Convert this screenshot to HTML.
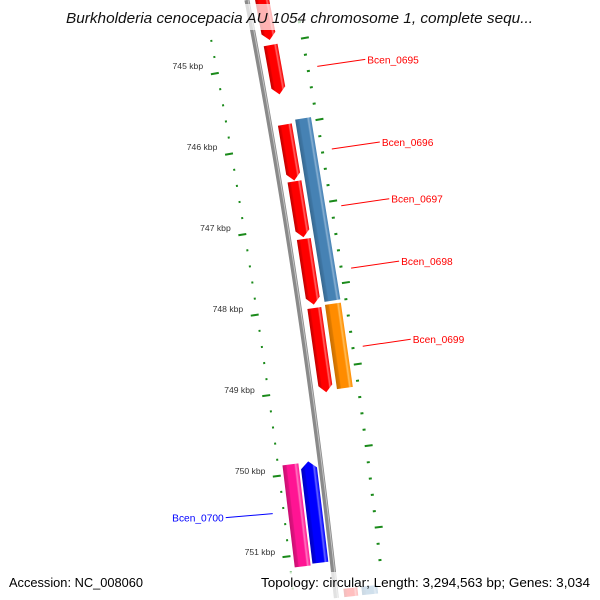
<!DOCTYPE html>
<html><head><meta charset="utf-8"><style>
html,body{margin:0;padding:0;background:#fff;width:600px;height:600px;overflow:hidden;}
svg{display:block;overflow:hidden;font-family:"Liberation Sans","DejaVu Sans",sans-serif;}
</style></head><body>
<svg id="map" width="600" height="600" viewBox="0 0 600 600" xmlns="http://www.w3.org/2000/svg">
<defs>
<linearGradient id="g-red" x1="0" x2="1" y1="0" y2="0"><stop offset="0" stop-color="#c00000"/><stop offset="0.2" stop-color="#e80000"/><stop offset="0.25" stop-color="#ff0000"/><stop offset="0.72" stop-color="#ff0000"/><stop offset="0.82" stop-color="#ff6a6a"/><stop offset="0.9" stop-color="#ff2a2a"/><stop offset="1" stop-color="#ee0000"/></linearGradient>
<linearGradient id="g-steel" x1="0" x2="1" y1="0" y2="0"><stop offset="0" stop-color="#36688f"/><stop offset="0.22" stop-color="#3f77a5"/><stop offset="0.28" stop-color="#4682b4"/><stop offset="0.72" stop-color="#4682b4"/><stop offset="0.82" stop-color="#8db3d4"/><stop offset="0.9" stop-color="#5a90c0"/><stop offset="1" stop-color="#4682b4"/></linearGradient>
<linearGradient id="g-orange" x1="0" x2="1" y1="0" y2="0"><stop offset="0" stop-color="#c86e00"/><stop offset="0.22" stop-color="#e07c00"/><stop offset="0.28" stop-color="#ff8c00"/><stop offset="0.72" stop-color="#ff8c00"/><stop offset="0.82" stop-color="#ffc060"/><stop offset="0.9" stop-color="#ffa020"/><stop offset="1" stop-color="#ff8c00"/></linearGradient>
<linearGradient id="g-pink" x1="0" x2="1" y1="0" y2="0"><stop offset="0" stop-color="#c80f72"/><stop offset="0.22" stop-color="#e01280"/><stop offset="0.28" stop-color="#ff1493"/><stop offset="0.72" stop-color="#ff1493"/><stop offset="0.82" stop-color="#ff7ac0"/><stop offset="0.9" stop-color="#ff40a8"/><stop offset="1" stop-color="#ff1493"/></linearGradient>
<linearGradient id="g-blue" x1="0" x2="1" y1="0" y2="0"><stop offset="0" stop-color="#0000c0"/><stop offset="0.22" stop-color="#0000e0"/><stop offset="0.28" stop-color="#0000ff"/><stop offset="0.72" stop-color="#0000ff"/><stop offset="0.82" stop-color="#6a6aff"/><stop offset="0.9" stop-color="#2a2aff"/><stop offset="1" stop-color="#0000ff"/></linearGradient>
</defs>
<g id="ticks"></g>
<g id="backbone"></g>
<g id="features"></g>
<g id="labels"></g>
<rect x="60" y="4" width="480" height="26" fill="#fff" opacity="0.7"/>
<text x="66" y="23" textLength="467" lengthAdjust="spacingAndGlyphs" font-size="14.5" font-style="italic" fill="#111">Burkholderia cenocepacia AU 1054 chromosome 1, complete sequ...</text>
<rect x="0" y="572" width="600" height="28" fill="#fff" opacity="0.75"/>
<text x="9" y="587" textLength="134" lengthAdjust="spacingAndGlyphs" font-size="13" fill="#000">Accession: NC_008060</text>
<text x="261" y="587" textLength="329" lengthAdjust="spacingAndGlyphs" font-size="13" fill="#000">Topology: circular; Length: 3,294,563 bp; Genes: 3,034</text>
</svg>
<script>
// genome data (kbp)
const geneNames  = ["g0694","Bcen_0695","Bcen_0696","Bcen_0697","Bcen_0698","Bcen_0699","cog1","cog2","cog3","Bcen_0700","g0701","cog4"];
const geneStarts = [743.95, 744.78, 745.76, 746.46, 747.17, 748.02, 745.72, 748.00, 749.88, 749.87, 751.47, 751.47];
const geneEnds   = [744.72, 745.39, 746.45, 747.15, 747.98, 749.06, 747.97, 749.04, 751.14, 751.12, 752.10, 752.10];
const geneStrand = [1,1,1,1,1,1,1,1,-1,-1,1,1];
const geneTrack  = ["fwd","fwd","fwd","fwd","fwd","fwd","fwdCog","fwdCog","revCog","rev","fwd","fwdCog"];
const geneColor  = ["red","red","red","red","red","red","steel","orange","pink","blue","red","steel"];
const geneArrow  = [1,1,1,1,1,1,0,0,0,1,1,0];
const geneLabeled= [0,1,1,1,1,1,0,0,0,1,0,0];
const tickKbp    = [744,745,746,747,748,749,750,751,752];
const tickLabels = ["744 kbp","745 kbp","746 kbp","747 kbp","748 kbp","749 kbp","750 kbp","751 kbp","752 kbp"];

const NS="http://www.w3.org/2000/svg";
function yOf(k){return 65.5+(k-745)*81;}
function bx(y){const t=y-307;return 299+0.1485*t-6.9e-5*t*t;}
function slope(y){return 0.1485-2*6.9e-5*(y-307);}
function mk(tag,attrs,parent){const e=document.createElementNS(NS,tag);for(const k in attrs)e.setAttribute(k,attrs[k]);parent.appendChild(e);return e;}
const lanes={fwd:[8,22],fwdCog:[26,42],rev:[-20,-4],revCog:[-38,-22]};

// backbone
const bb=document.getElementById('backbone');
let pts=[];for(let y=0;y<=598;y+=13)pts.push([bx(y),y]);pts.push([bx(598),598]);
const bpath=mk('path',{d:'M'+pts.map(p=>p[0].toFixed(2)+','+p[1]).join(' L'),fill:'none',stroke:'#8a8a8a','stroke-width':5},bb);


mk('path',{d:'M'+pts.map(p=>(p[0]+1.2).toFixed(2)+','+p[1]).join(' L'),fill:'none',stroke:'#c4c4c4','stroke-width':1},bb);

// ticks
const tg=document.getElementById('ticks');
function tick(y,o1,o2){const a=Math.atan(slope(y));const c=Math.cos(a),s=Math.sin(a);const x0=bx(y);
 return mk('line',{x1:x0+o1*c,y1:y-o1*s,x2:x0+o2*c,y2:y-o2*s,stroke:'#1a8a1a','stroke-width':2},tg);}
for(let i=0;i<tickKbp.length;i++){
 for(let j=0;j<5;j++){
  const k=tickKbp[i]+j/5;const y=yOf(k);if(y<25||y>597)continue;
  const ti=j===0?tick(y,-49,-41):tick(y,-43.5,-41.5);
  
  
  if(j===0&&y<590){const lt=mk('text',{x:bx(y)-56,y:y+3.5,'text-anchor':'end','font-size':8.6,fill:'#333'},tg);lt.textContent=tickLabels[i];
   
   }
  const yo=y-18.5;if(yo<25||yo>597)continue;
  const to=j===0?tick(yo,46,54):tick(yo,46,49);
  
  
 }
}

// features
const fg=document.getElementById('features');const lg=document.getElementById('labels');
for(let i=0;i<geneNames.length;i++){
 let y1=yOf(geneStarts[i]),y2=yOf(geneEnds[i]);const ym=(y1+y2)/2;
 let arrow=geneArrow[i];
 if(y1<0){y1=0;if(geneStrand[i]<0)arrow=0;}
 if(y2>598){y2=598;if(geneStrand[i]>0)arrow=0;}
 const a=Math.atan(slope((y1+y2)/2));const L=(y2-y1)/Math.cos(a);
 const [o1,o2]=lanes[geneTrack[i]];
 const g=mk('g',{transform:`translate(${bx(y1).toFixed(2)},${y1.toFixed(2)}) rotate(${(-a*180/Math.PI).toFixed(3)})`},fg);
 
 
 let d;const h=7;
 if(!arrow) d=`M${o1},0 L${o2},0 L${o2},${L} L${o1},${L} Z`;
 else if(geneStrand[i]>0) d=`M${o1},0 L${o2},0 L${o2},${L-h} L${(o1+o2)/2},${L} L${o1},${L-h} Z`;
 else d=`M${(o1+o2)/2},0 L${o2},${h} L${o2},${L} L${o1},${L} L${o1},${h} Z`;
 mk('path',{d:d,fill:'url(#g-'+geneColor[i]+')'},g);
 if(geneLabeled[i]){
  const col=geneStrand[i]>0?'#ff0000':'#0000ff';
  if(geneStrand[i]>0){const sy=ym-6,sx=bx(sy)+58;
   const ln=mk('line',{x1:sx,y1:sy,x2:sx+48,y2:sy-7,stroke:col,'stroke-width':1},lg);
   
   
   const t=mk('text',{x:sx+50,y:sy-3,'font-size':10.2,fill:col},lg);t.textContent=geneNames[i];
   
   
  } else {const sy=ym+3,sx=bx(sy)-54;
   const ln=mk('line',{x1:sx,y1:sy,x2:sx-47,y2:sy+4,stroke:col,'stroke-width':1},lg);
   
   
   const t=mk('text',{x:sx-49,y:sy+8,'text-anchor':'end','font-size':10.2,fill:col},lg);t.textContent=geneNames[i];
   
   
  }
 }
}
</script>
</body></html>
